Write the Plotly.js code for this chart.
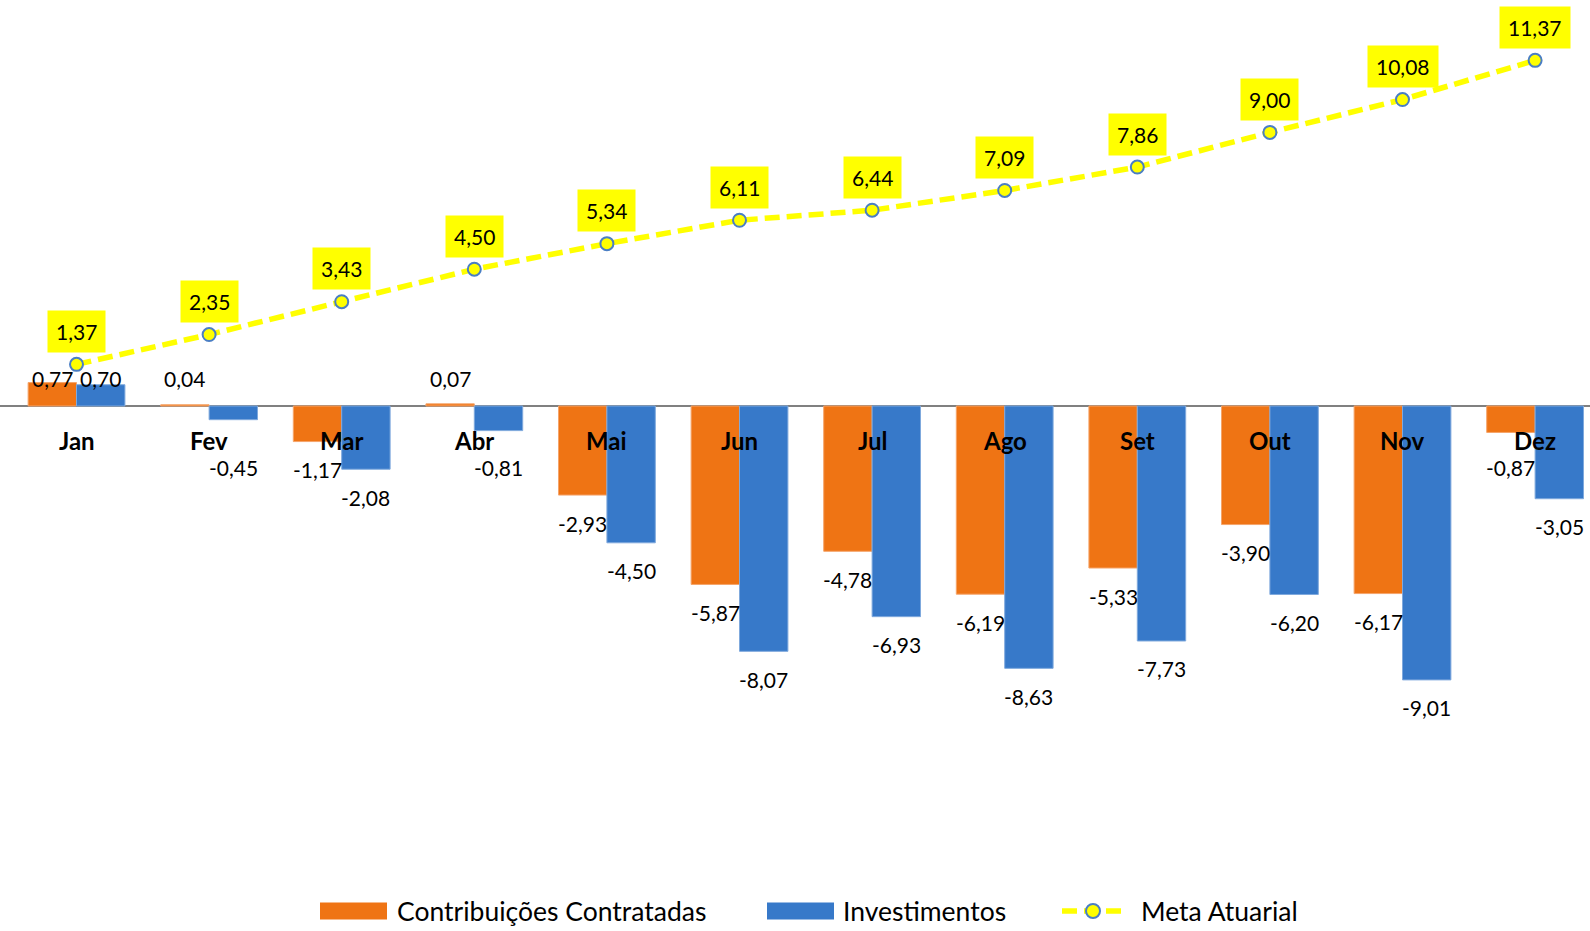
<!DOCTYPE html>
<html>
<head>
<meta charset="utf-8">
<script src="https://cdn.plot.ly/plotly-3.0.1.min.js"></script>
<style>html,body{margin:0;padding:0;background:#fff;}#chart{width:1590px;height:931px;}</style>
</head>
<body>
<div id="chart"></div>
<script>
const months = ["Jan","Fev","Mar","Abr","Mai","Jun","Jul","Ago","Set","Out","Nov","Dez"];
const contribuicoes = [0.77, 0.04, -1.17, 0.07, -2.93, -5.87, -4.78, -6.19, -5.33, -3.90, -6.17, -0.87];
const investimentos = [0.70, -0.45, -2.08, -0.81, -4.50, -8.07, -6.93, -8.63, -7.73, -6.20, -9.01, -3.05];
const metaAtuarial = [1.37, 2.35, 3.43, 4.50, 5.34, 6.11, 6.44, 7.09, 7.86, 9.00, 10.08, 11.37];
const seriesNames = ["Contribuições Contratadas", "Investimentos", "Meta Atuarial"];

const ORANGE = "#EF7414", BLUE = "#3779C9", YELLOW = "#FFFF00", MBLUE = "#4A7EC4";
const FONT = "Lato, 'Liberation Sans', sans-serif";
const fmt = v => v.toFixed(2).replace(".", ",");

const traces = [
  {type:"bar", x:months, y:contribuicoes, name:seriesNames[0], marker:{color:ORANGE, line:{color:"#F5A46A", width:1}}, hoverinfo:"none"},
  {type:"bar", x:months, y:investimentos, name:seriesNames[1], marker:{color:BLUE, line:{color:"#7FA9DD", width:1}}, hoverinfo:"none"},
  {type:"scatter", mode:"lines+markers", x:months, y:metaAtuarial, name:seriesNames[2],
   line:{color:YELLOW, width:5.5, dash:"15px,7px"},
   marker:{size:13, color:YELLOW, line:{color:MBLUE, width:2}}, hoverinfo:"none"}
];

const annotations = [];
months.forEach((m, i) => {
  annotations.push({x:m, y:0, xref:"x", yref:"y", text:"<b>"+m+"</b>", showarrow:false,
    yanchor:"middle", yshift:-34, font:{family:FONT, size:24, color:"#000"}});
  [[contribuicoes, -24.2], [investimentos, 24.2]].forEach(([arr, xs]) => {
    const v = arr[i];
    annotations.push({x:m, y: v >= 0 ? 0 : Math.min(v, -1.1), xref:"x", yref:"y", text:fmt(v), showarrow:false,
      xshift:xs, yanchor:"middle", yshift: v >= 0 ? 28 : -28, font:{family:FONT, size:21, color:"#000"}});
  });
  annotations.push({x:m, y:metaAtuarial[i], xref:"x", yref:"y", text:fmt(metaAtuarial[i]), showarrow:false,
    yanchor:"middle", yshift:33, bgcolor:YELLOW, borderpad:8, font:{family:FONT, size:21, color:"#000"}});
});

// custom legend (pixel -> paper)
const W = 1590, H = 880, LY = 911;
const px = p => p / W, py = p => (H - p) / H;
const shapes = [
  {type:"rect", xref:"paper", yref:"paper", x0:px(320), x1:px(387), y0:py(LY+8.5), y1:py(LY-8.5), fillcolor:ORANGE, line:{width:0}},
  {type:"rect", xref:"paper", yref:"paper", x0:px(767), x1:px(834), y0:py(LY+8.5), y1:py(LY-8.5), fillcolor:BLUE, line:{width:0}},
  {type:"line", xref:"paper", yref:"paper", x0:px(1062), x1:px(1124), y0:py(LY), y1:py(LY), line:{color:YELLOW, width:5.5, dash:"15px,7px"}},
  {type:"circle", xref:"paper", yref:"paper", x0:px(1086), x1:px(1100), y0:py(LY+7), y1:py(LY-7), fillcolor:YELLOW, line:{color:MBLUE, width:2}}
];
[[395, seriesNames[0]], [841, seriesNames[1]], [1139, seriesNames[2]]].forEach(([x, t]) => {
  annotations.push({xref:"paper", yref:"paper", x:px(x), y:py(LY), xanchor:"left", yanchor:"middle", text:t,
    showarrow:false, font:{family:FONT, size:26.5, color:"#000"}});
});

const layout = {
  width:1590, height:931,
  margin:{l:0, r:0, t:0, b:51},
  paper_bgcolor:"#fff", plot_bgcolor:"#fff",
  barmode:"group", bargap:0.27, bargroupgap:0,
  showlegend:false,
  xaxis:{type:"category", range:[-0.577, 11.414], showticklabels:false, showgrid:false, zeroline:false, showline:false, ticks:""},
  yaxis:{range:[-15.592, 13.355], showticklabels:false, showgrid:false, zeroline:true, zerolinecolor:"#808080", zerolinewidth:2, ticks:""},
  annotations:annotations, shapes:shapes,
  font:{family:FONT}
};
Plotly.newPlot("chart", traces, layout, {displayModeBar:false, staticPlot:true});
</script>
</body>
</html>
